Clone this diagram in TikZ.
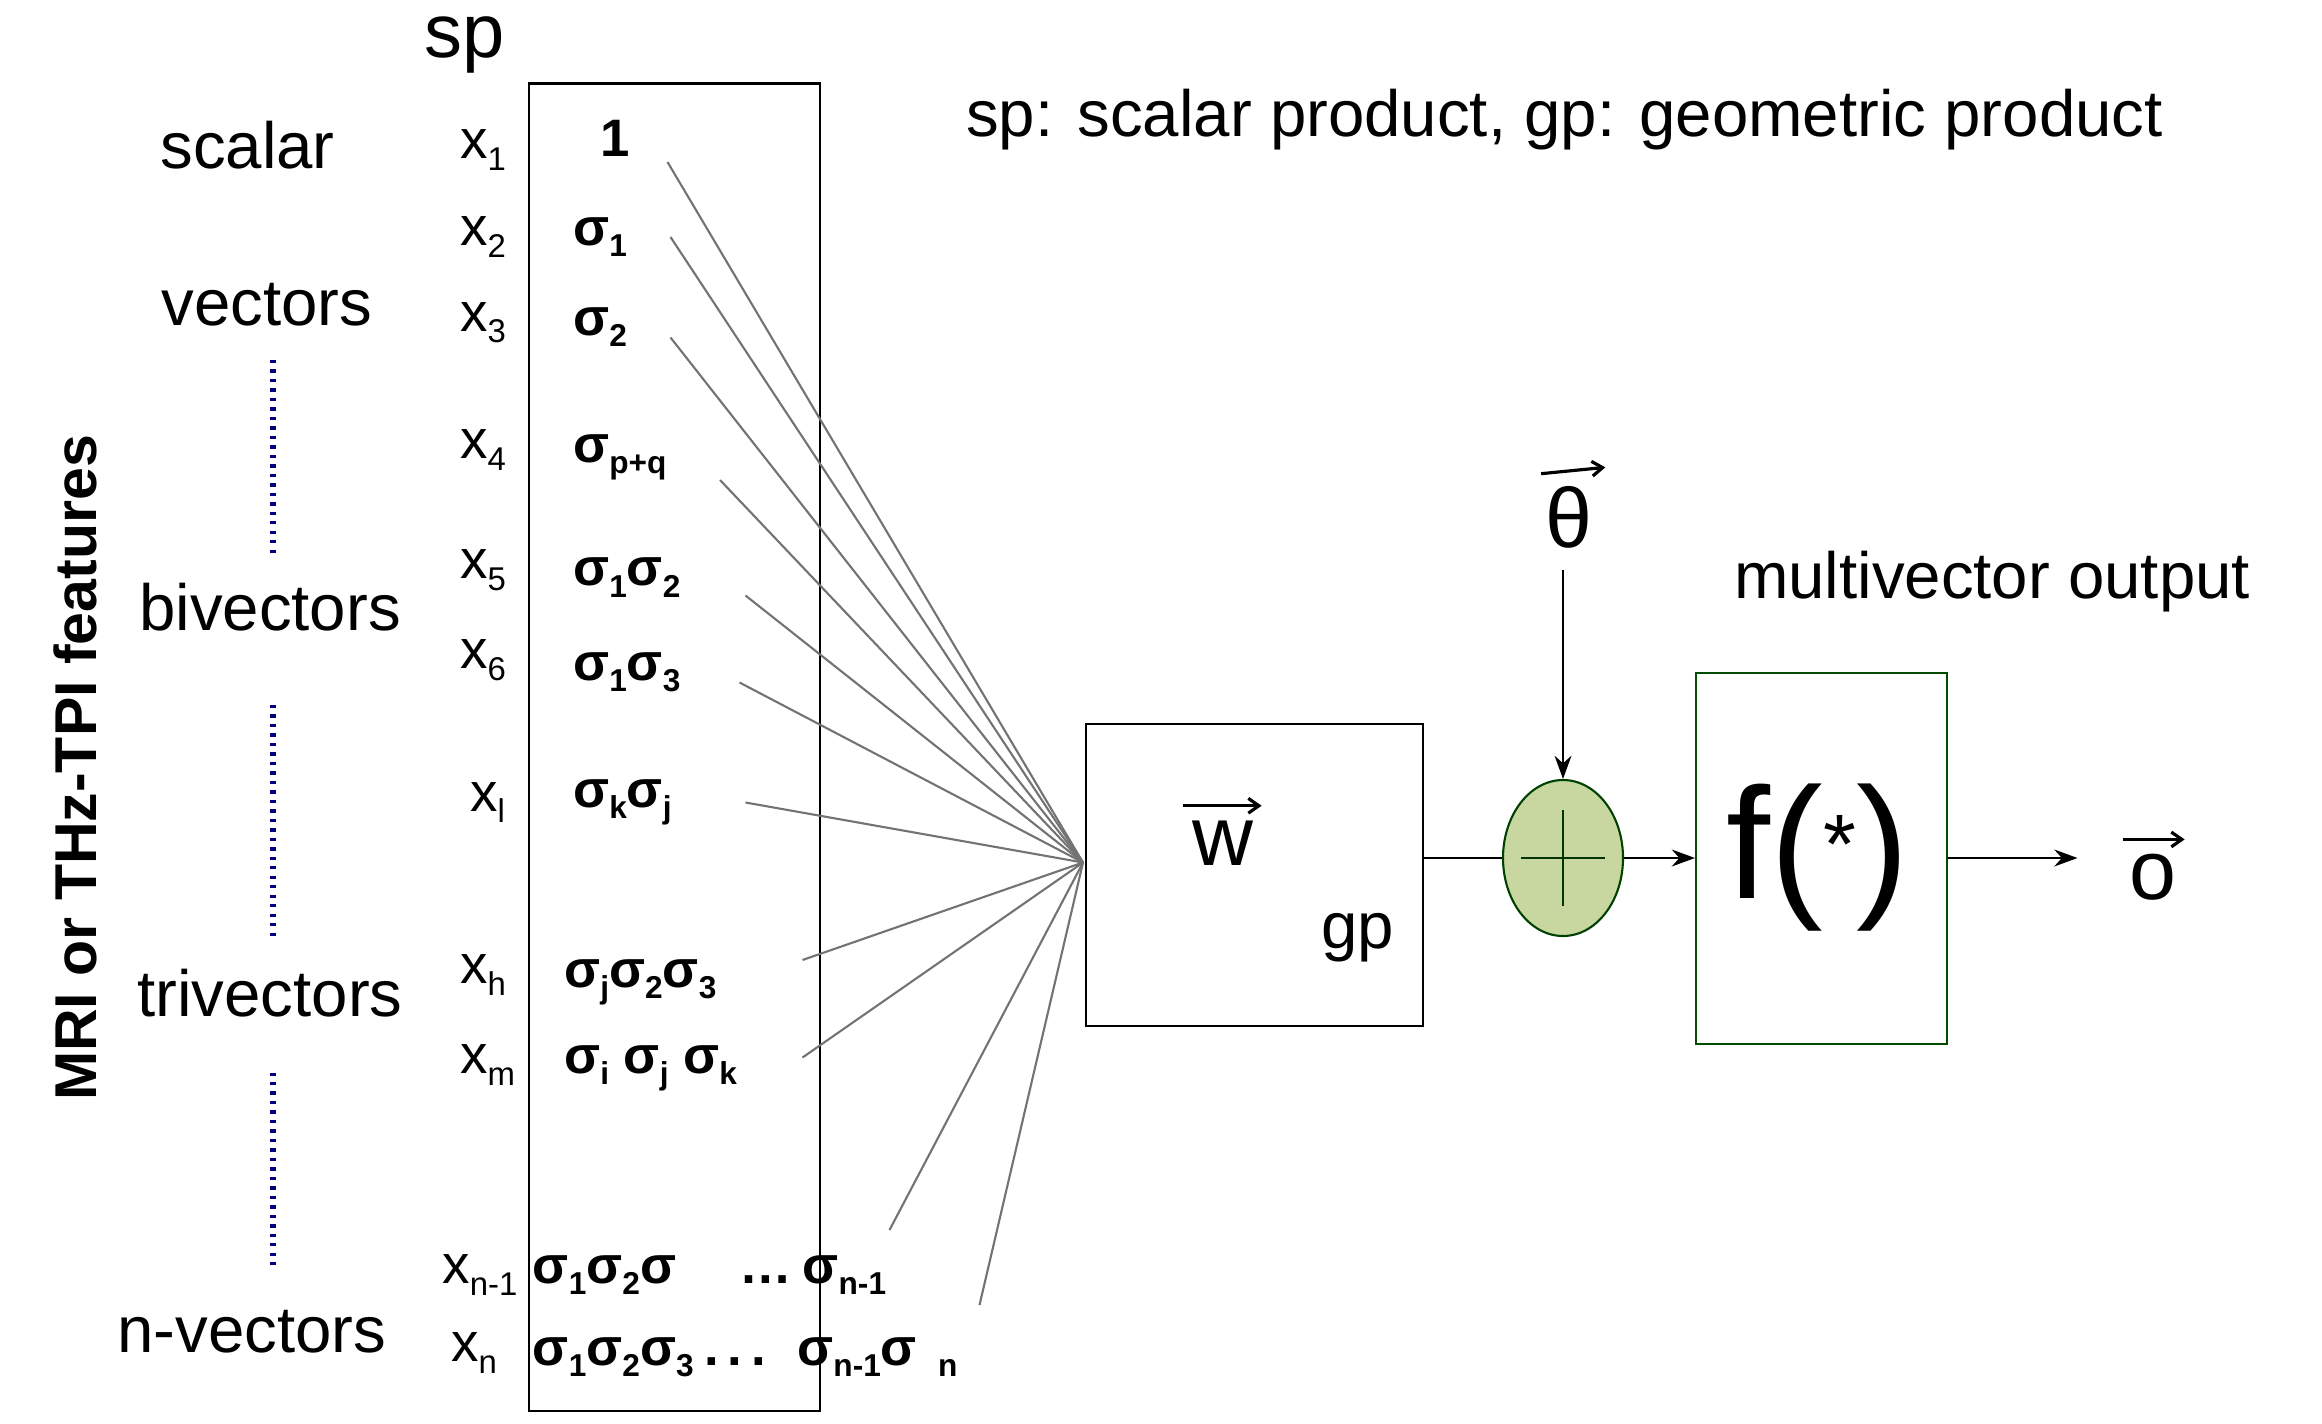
\documentclass[tikz,border=0pt]{standalone}
\usepackage{fontspec}
\setmainfont{Liberation Sans}
\usetikzlibrary{arrows.meta,shapes.geometric}
\newcommand\sbs[1]{\raisebox{-0.4ex}{\scalebox{0.6}{#1}}}
\begin{document}
\begin{tikzpicture}[x=0.05cm,y=-0.05cm,
  lab/.style={font=\fontsize{62}{70}\selectfont,inner sep=0},
  xl/.style={font=\fontsize{52}{56}\selectfont,inner sep=0},
  sg/.style={font=\fontsize{50}{56}\selectfont\bfseries,inner sep=0,anchor=west},
  ln/.style={draw=gray!90!black,line width=2pt},
  box/.style={draw,line width=2.2pt},
  arr/.style={line width=2pt,-{Stealth[length=22pt,width=16pt]}},
  varr/.style={line width=3pt,-{Straight Barb[length=10pt,width=14pt]}},
  dots/.style={draw=blue!50!black,line width=5pt,dash pattern=on 3pt off 6pt}]
\useasboundingbox (0,0) rectangle (1548,949);
\node[box,minimum width=194*0.05cm,minimum height=885*0.05cm,anchor=north west] (sp) at (352,55) {};
\node[lab,font=\fontsize{72}{80}\selectfont] (spl) at (310,30) {sp};
\node[lab] (top) at (1043,80) {sp: scalar product, gp: geometric product};
\node[lab] (l1) at (165,97) {scalar};
\node[lab] (l2) at (178,203) {vectors};
\node[lab] (l3) at (180,405) {bivectors};
\node[lab] (l4) at (180,662) {trivectors};
\node[lab] (l5) at (168,888) {n-vectors};
\node[lab,rotate=90,font=\bfseries\fontsize{56}{60}\selectfont] (mri) at (50,512) {MRI or THz-TPI features};
\coordinate (d1a) at (182,240); \coordinate (d1b) at (182,370);
\coordinate (d2a) at (182,470); \coordinate (d2b) at (182,625);
\coordinate (d3a) at (182,715); \coordinate (d3b) at (182,845);
\draw[dots] (d1a)--(d1b); \draw[dots] (d2a)--(d2b); \draw[dots] (d3a)--(d3b);
% x labels
\node[xl] (x1) at (322,100) {x\sbs{1}};
\node[xl] (x2) at (322,158) {x\sbs{2}};
\node[xl] (x3) at (322,215) {x\sbs{3}};
\node[xl] (x4) at (322,300) {x\sbs{4}};
\node[xl] (x5) at (322,380) {x\sbs{5}};
\node[xl] (x6) at (322,440) {x\sbs{6}};
\node[xl] (xl) at (325,535) {x\sbs{l}};
\node[xl] (xh) at (322,650) {x\sbs{h}};
\node[xl] (xm) at (325,710) {x\sbs{m}};
\node[xl] (xn1) at (320,850) {x\sbs{n-1}};
\node[xl] (xn) at (316,902) {x\sbs{n}};
% sigma labels
\node[sg] (s1) at (400,92) {1};
\node[sg] (s2) at (382,158) {σ\sbs{1}};
\node[sg] (s3) at (382,218) {σ\sbs{2}};
\node[sg] (s4) at (382,305) {σ\sbs{p+q}};
\node[sg] (s5) at (382,385) {σ\sbs{1}σ\sbs{2}};
\node[sg] (s6) at (382,448) {σ\sbs{1}σ\sbs{3}};
\node[sg] (s7) at (382,535) {σ\sbs{k}σ\sbs{j}};
\node[sg] (s8) at (376,655) {σ\sbs{j}σ\sbs{2}σ\sbs{3}};
\node[sg] (s9) at (376,712) {σ\sbs{i} σ\sbs{j} σ\sbs{k}};
\node[sg] (s10) at (355,850) {σ\sbs{1}σ\sbs{2}σ\hspace{1.2em}…\hspace{0.2em}σ\sbs{n-1}};
\node[sg] (s11) at (355,905) {σ\sbs{1}σ\sbs{2}σ\sbs{3}\hspace{0.2em}.\,.\,.\hspace{0.6em}σ\sbs{n-1}σ\hspace{0.4em}\sbs{n}};
\coordinate (c1) at (445,108); \coordinate (c2) at (447,158);
\coordinate (c3) at (447,225); \coordinate (c4) at (480,320);
\coordinate (c5) at (497,397); \coordinate (c6) at (493,455);
\coordinate (c7) at (497,535); \coordinate (c8) at (535,640);
\coordinate (c9) at (535,705); \coordinate (c10) at (593,820);
\coordinate (c11) at (653,870);
\coordinate (conv) at (722,575);
\foreach \i in {1,...,11} {\draw[ln] (c\i) -- (conv);}
% w box
\node[box,minimum width=225*0.05cm,minimum height=201*0.05cm,anchor=north west] (wb) at (723,482) {};
\node[lab,font=\fontsize{80}{80}\selectfont] (w) at (815,562) {w};
\draw[varr] ([xshift=-8pt,yshift=14pt]w.north west) -- ([xshift=8pt,yshift=14pt]w.north east);
\node[lab] (gp) at (905,625) {gp};
\node[draw=green!25!black,line width=2pt,fill={rgb,255:red,200;green,215;blue,160},ellipse,minimum width=80*0.05cm,minimum height=104*0.05cm,inner sep=0] (sum) at (1042,572) {};
\draw[line width=2pt,green!20!black] (1042,540)--(1042,604) (1014,572)--(1070,572);
\draw[line width=2pt] (wb.east|-sum) -- (sum.west);
\node[lab,font=\fontsize{80}{80}\selectfont] (th) at (1046,345) {θ};
\draw[varr] ([xshift=-4pt,yshift=12pt]th.north west) -- ([xshift=12pt,yshift=18pt]th.north east);
\coordinate (tht) at (1042,380);
\draw[arr] (tht) -- (sum.north);
\node[draw=green!30!black,line width=2pt,minimum width=167*0.05cm,minimum height=247*0.05cm,anchor=north west] (fb) at (1130,448) {};
\draw[arr] (sum.east) -- (fb.west|-sum);
\node[lab,font=\fontsize{150}{150}\selectfont] (f) at (1212,572) {f(\raisebox{0.3ex}{\fontsize{80}{80}\selectfont *})};
\node[lab] (mo) at (1328,388) {multivector output};
\coordinate (oa) at (1385,572);
\draw[arr] (fb.east|-sum) -- (oa);
\node[lab,font=\fontsize{80}{80}\selectfont] (o) at (1435,585) {o};
\draw[varr] ([xshift=-6pt,yshift=14pt]o.north west) -- ([xshift=8pt,yshift=14pt]o.north east);
\end{tikzpicture}
\end{document}
